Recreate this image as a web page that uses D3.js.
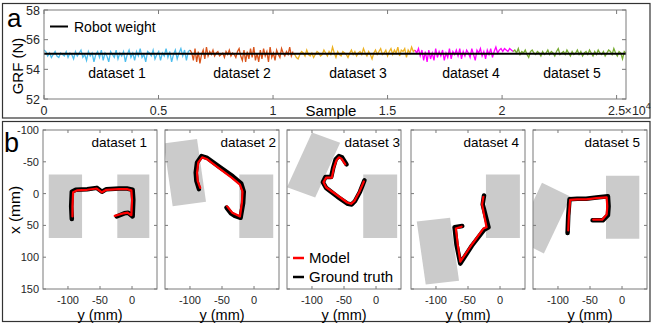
<!DOCTYPE html>
<html>
<head>
<meta charset="utf-8">
<script src="https://cdn.jsdelivr.net/npm/d3@7"></script>
<style>
  body { margin: 0; background: #fff; }
  svg { display: block; font-family: "Liberation Sans", Arial, sans-serif; }
</style>
</head>
<body>
<svg id="chart" width="652" height="324"></svg>
<script>
// ---- panel a data: ground reaction force per dataset ----
const datasetNames = ['dataset 1', 'dataset 2', 'dataset 3', 'dataset 4', 'dataset 5'];
const datasetColors = ['#4DBEEE', '#D95319', '#EDB120', '#FF00FF', '#77AC30'];
const sampleBounds = [0, 6380, 10870, 16200, 20480, 25410];
const robotWeight = 55.05;

const grf1 = [55.3,55.2,54.9,55.1,54.8,55.0,55.2,54.9,54.8,55.1,55.0,54.9,55.2,54.8,55.1,55.0,54.7,55.2,54.9,55.1,
  55.3,54.8,55.0,54.6,55.2,54.9,55.1,54.5,55.0,55.2,54.8,55.3,54.6,55.1,54.9,54.5,55.2,55.0,54.8,55.3,
  54.7,55.1,54.9,55.2,54.5,55.0,55.3,54.8,55.1,54.6,55.2,54.9,55.4,54.8,55.0,54.5,55.2,55.1,54.9,55.3,
  54.7,55.0,55.2,54.6,55.1,54.9,55.4,54.8,55.2,54.5,55.0,55.3,54.7,55.1,55.4,54.9,55.3,54.6,55.2,55.3];
const grf2 = [55.3,55.1,54.6,55.4,54.5,55.2,54.4,55.0,55.3,54.7,55.5,54.9,55.2,55.0,55.3,54.9,55.1,55.2,54.9,55.0,
  55.1,54.8,55.2,55.0,55.3,54.9,55.1,55.0,54.8,55.2,55.4,54.9,54.6,55.3,54.5,55.2,54.7,55.4,54.8,55.5,
  54.6,55.1,54.5,55.3,54.7,55.4,54.9,55.2,54.5,55.5,54.8,55.1,54.6,55.3,55.0,54.8,55.4,55.1,54.9,55.2,
  55.0,55.5,54.9,55.2];
const grf3 = [55.1,55.0,54.8,54.7,55.0,55.2,55.1,54.9,55.3,55.0,54.9,55.1,54.8,55.0,55.2,55.1,54.9,55.0,55.3,55.1,
  54.9,55.2,55.0,55.5,55.1,54.8,55.2,55.0,54.9,55.2,55.1,55.0,54.8,55.1,55.3,55.0,55.2,54.9,55.1,55.2,
  55.0,55.4,55.1,54.9,55.2,55.0,54.7,55.1,55.3,55.0,55.2,55.4,55.0,55.1,55.3,54.9,55.2,55.4,55.0,55.3,
  55.1,55.5,54.9,55.3,55.2,55.4,54.8,55.3,55.1,55.5,55.2,55.3];
const grf4 = [55.3,55.1,55.4,54.9,55.3,54.6,55.2,54.5,55.3,54.7,55.1,54.6,55.4,54.8,55.2,54.9,55.3,54.6,55.1,54.8,
  55.4,54.7,55.2,55.0,55.3,54.9,55.4,54.7,55.2,54.9,55.3,55.1,54.8,55.4,55.0,54.6,55.3,55.1,55.4,54.9,
  55.2,54.7,55.3,55.0,55.4,54.8,55.2,55.5,55.1,55.3,55.4,55.2,55.4,55.3,55.2,55.4,55.3,55.2];
const grf5 = [55.2,55.3,55.1,55.4,55.0,55.2,55.1,55.3,55.0,54.8,55.2,55.3,55.1,55.0,55.2,55.1,54.9,55.2,55.0,55.1,
  55.3,55.0,55.2,55.1,54.9,55.2,55.4,55.0,55.1,55.2,55.0,55.3,55.1,54.9,55.2,55.0,55.1,55.3,55.0,55.2,
  54.9,55.1,55.2,55.0,55.3,55.1,54.9,55.2,55.0,55.3,55.1,55.0,55.2,54.9,55.1,55.3,55.2,55.0,55.4,55.1,
  54.9,55.2,55.1,54.7,55.2,55.1];
const grfSeries = [grf1, grf2, grf3, grf4, grf5];

const grfTicks = [52, 54, 56, 58];
const sampleTicks = [0, 5000, 10000, 15000, 20000, 25000];
const sampleTickLabels = ['0', '0.5', '1', '1.5', '2', '2.5'];

// ---- panel b data: trajectories [y mm, x mm] ----
const model1 = [[-93,36],[-93,20],[-92,-2],[-86,-5],[-70,-6],[-55,-8],[-47,-2],[-40,-6],[-20,-7],[-8,-7],[-1,-5],[0,10],[-1,34],[-7,30],[-13,31],[-27,35]];
const truth1 = [[-94,40],[-95,20],[-94,-3],[-88,-6],[-70,-7],[-55,-9],[-47,-3],[-40,-7],[-20,-8],[-8,-8],[1,-6],[2,10],[1,36],[-6,30],[-12,31],[-24,36]];
const model2 = [[-84,-9],[-88,-20],[-89,-33],[-87,-49],[-81,-57],[-73,-54],[-55,-40],[-35,-25],[-22,-14],[-18,-3],[-19,15],[-22,36],[-28,33],[-34,30],[-42,20]];
const truth2 = [[-86,-7],[-90,-20],[-91,-33],[-89,-49],[-82,-59],[-73,-56],[-54,-42],[-33,-27],[-20,-16],[-16,-3],[-17,15],[-21,38],[-30,35],[-36,31],[-43,22]];
const model3 = [[-48,-46],[-54,-55],[-58,-57],[-62,-52],[-66,-40],[-69,-25],[-78,-25],[-82,-18],[-78,-10],[-60,3],[-45,14],[-39,16],[-34,12],[-26,-3],[-19,-19]];
const truth3 = [[-46,-46],[-53,-57],[-58,-59],[-63,-54],[-67,-40],[-70,-26],[-79,-26],[-83,-18],[-78,-9],[-60,5],[-44,16],[-38,17],[-33,12],[-25,-3],[-18,-21]];
const model4 = [[-26,5],[-28,17],[-25,33],[-21,53],[-26,55],[-44,80],[-62,107],[-66,80],[-69,55],[-60,52]];
const truth4 = [[-25,3],[-27,17],[-23,33],[-18,53],[-25,57],[-44,82],[-62,110],[-68,80],[-71,53],[-59,51]];
const model5 = [[-84,58],[-83,35],[-81,10],[-70,9],[-56,9],[-40,7],[-24,6],[-23,20],[-24,33],[-31,41],[-45,41]];
const truth5 = [[-85,62],[-84,35],[-82,9],[-70,8],[-56,8],[-40,6],[-22,4],[-21,20],[-22,34],[-30,42],[-46,42]];
const models = [model1, model2, model3, model4, model5];
const truths = [truth1, truth2, truth3, truth4, truth5];

// contact pads (grey), corners as [y, x]
const pads = [
  [[[-130,-30],[-78,-30],[-78,70],[-130,70]], [[-23,-30],[27,-30],[27,70],[-23,70]]],
  [[[-141,-79],[-89,-86],[-75,13],[-127,20]], [[-23,-30],[30,-30],[30,70],[-23,70]]],
  [[[-100,-96],[-56,-80],[-95,6],[-139,-10]], [[-20,-30],[33,-30],[33,70],[-20,70]]],
  [[[-130,44],[-78,38],[-64,137],[-116,143]], [[-22,-30],[31,-30],[31,70],[-22,70]]],
  [[[-125,-17],[-80,5],[-122,94],[-167,72]], [[-25,-28],[27,-28],[27,71],[-25,71]]]
];
const posXTicks = [-100, -50, 0, 50, 100, 150];
const posYTicks = [-100, -50, 0];

const svg = d3.select('#chart');
const axisCol = '#7a7a7a', textCol = '#262626';

// outer frames
svg.append('rect').attr('x', 2.5).attr('y', 3.5).attr('width', 647.5).attr('height', 114.5)
  .attr('fill', 'none').attr('stroke', '#333').attr('stroke-width', 1.2);
svg.append('rect').attr('x', 2.5).attr('y', 121.5).attr('width', 647.5).attr('height', 200)
  .attr('fill', 'none').attr('stroke', '#333').attr('stroke-width', 1.2);

// ================= panel a =================
const a = { left: 44, right: 626, top: 10, bottom: 99 };
const sx = d3.scaleLinear().domain([0, 25410]).range([a.left, a.right]);
const sy = d3.scaleLinear().domain([52, 58]).range([a.bottom, a.top]);
const ga = svg.append('g');

ga.append('clipPath').attr('id', 'clipA').append('rect')
  .attr('x', a.left).attr('y', a.top).attr('width', a.right - a.left).attr('height', a.bottom - a.top);

const series = ga.append('g').attr('clip-path', 'url(#clipA)');
grfSeries.forEach((vals, k) => {
  const s0 = sampleBounds[k], s1 = sampleBounds[k + 1];
  const line = d3.line()
    .x((d, i) => sx(s0 + i * (s1 - s0) / (vals.length - 1)))
    .y(d => sy(d));
  series.append('path').datum(vals).attr('d', line)
    .attr('fill', 'none').attr('stroke', datasetColors[k]).attr('stroke-width', 1.3);
});
series.append('line').attr('x1', a.left).attr('x2', a.right)
  .attr('y1', sy(robotWeight)).attr('y2', sy(robotWeight))
  .attr('stroke', '#000').attr('stroke-width', 2);

// box + inward ticks
ga.append('rect').attr('x', a.left).attr('y', a.top).attr('width', a.right - a.left).attr('height', a.bottom - a.top)
  .attr('fill', 'none').attr('stroke', axisCol).attr('stroke-width', 1);
grfTicks.forEach(t => {
  [[a.left, 4], [a.right, -4]].forEach(([x0, dx]) => {
    ga.append('line').attr('x1', x0).attr('x2', x0 + dx).attr('y1', sy(t)).attr('y2', sy(t))
      .attr('stroke', axisCol);
  });
  ga.append('text').attr('x', a.left - 4).attr('y', sy(t) + 4.5).attr('text-anchor', 'end')
    .attr('font-size', 12.5).attr('fill', textCol).text(t);
});
sampleTicks.forEach((t, i) => {
  [[a.bottom, -4], [a.top, 4]].forEach(([y0, dy]) => {
    ga.append('line').attr('x1', sx(t)).attr('x2', sx(t)).attr('y1', y0).attr('y2', y0 + dy)
      .attr('stroke', axisCol);
  });
  ga.append('text').attr('x', sx(t)).attr('y', 115).attr('text-anchor', 'middle')
    .attr('font-size', 12.5).attr('fill', textCol).text(sampleTickLabels[i]);
});
// exponent label
const ex = ga.append('text').attr('x', sx(25000) + 8).attr('y', 115).attr('font-size', 12.5).attr('fill', textCol);
ex.append('tspan').text('\u00d710');
ex.append('tspan').attr('font-size', 9).attr('dy', -6).text('4');

ga.append('text').attr('x', 331).attr('y', 116).attr('text-anchor', 'middle')
  .attr('font-size', 15).attr('fill', '#000').text('Sample');
ga.append('text').attr('transform', 'translate(23,66) rotate(-90)').attr('text-anchor', 'middle')
  .attr('font-size', 15).attr('fill', '#000').text('GRF (N)');

// dataset captions
const captionX = [117, 242, 358, 471, 572];
datasetNames.forEach((n, i) => {
  ga.append('text').attr('x', captionX[i]).attr('y', 78).attr('text-anchor', 'middle')
    .attr('font-size', 14).attr('fill', '#000').text(n);
});

// legend
ga.append('line').attr('x1', 50).attr('x2', 68).attr('y1', 26.5).attr('y2', 26.5)
  .attr('stroke', '#000').attr('stroke-width', 2);
ga.append('text').attr('x', 74).attr('y', 31.5).attr('font-size', 14).attr('fill', '#000').text('Robot weight');

ga.append('text').attr('x', 7).attr('y', 27).attr('font-size', 26).attr('fill', '#000').text('a');

// ================= panel b =================
const bLefts = [43, 165, 287, 411, 533];
const bW = 114, bTop = 130, bBottom = 289;
const captionPad = [10, 3, 1, 6, 7];

bLefts.forEach((left, k) => {
  const px = d3.scaleLinear().domain([-139, 39]).range([left, left + bW]);
  const py = d3.scaleLinear().domain([-100, 150]).range([bTop, bBottom]);
  const g = svg.append('g');
  const cid = 'clipB' + k;
  g.append('clipPath').attr('id', cid).append('rect')
    .attr('x', left).attr('y', bTop).attr('width', bW).attr('height', bBottom - bTop);
  const inner = g.append('g').attr('clip-path', `url(#${cid})`);

  pads[k].forEach(poly => {
    inner.append('polygon').attr('points', poly.map(p => px(p[0]) + ',' + py(p[1])).join(' '))
      .attr('fill', '#cbcbcb');
  });

  const line = d3.line().x(d => px(d[0])).y(d => py(d[1]));
  inner.append('path').datum(truths[k]).attr('d', line).attr('fill', 'none')
    .attr('stroke', '#000').attr('stroke-width', 4.5).attr('stroke-linejoin', 'round').attr('stroke-linecap', 'round');
  inner.append('path').datum(models[k]).attr('d', line).attr('fill', 'none')
    .attr('stroke', '#ff0000').attr('stroke-width', 2.2).attr('stroke-linejoin', 'round').attr('stroke-linecap', 'round');

  g.append('rect').attr('x', left).attr('y', bTop).attr('width', bW).attr('height', bBottom - bTop)
    .attr('fill', 'none').attr('stroke', axisCol).attr('stroke-width', 1);

  posXTicks.forEach(t => {
    [[left, 3], [left + bW, -3]].forEach(([x0, dx]) => {
      g.append('line').attr('x1', x0).attr('x2', x0 + dx).attr('y1', py(t)).attr('y2', py(t)).attr('stroke', axisCol);
    });
    if (k === 0) {
      g.append('text').attr('x', left - 4).attr('y', py(t) + 4).attr('text-anchor', 'end')
        .attr('font-size', 11).attr('fill', textCol).text(t);
    }
  });
  posYTicks.forEach(t => {
    [[bBottom, -3], [bTop, 3]].forEach(([y0, dy]) => {
      g.append('line').attr('x1', px(t)).attr('x2', px(t)).attr('y1', y0).attr('y2', y0 + dy).attr('stroke', axisCol);
    });
    g.append('text').attr('x', px(t)).attr('y', 304).attr('text-anchor', 'middle')
      .attr('font-size', 11).attr('fill', textCol).text(t);
  });

  g.append('text').attr('x', left + bW / 2).attr('y', 319.5).attr('text-anchor', 'middle')
    .attr('font-size', 14.5).attr('fill', '#000').text('y (mm)');
  g.append('text').attr('x', left + bW - captionPad[k]).attr('y', 147).attr('text-anchor', 'end')
    .attr('font-size', 13.5).attr('fill', '#000').text(datasetNames[k]);
});

svg.append('text').attr('transform', 'translate(20,210) rotate(-90)').attr('text-anchor', 'middle')
  .attr('font-size', 15.5).attr('fill', '#000').text('x (mm)');
svg.append('text').attr('x', 4).attr('y', 152).attr('font-size', 27).attr('fill', '#000').text('b');

// legend in dataset 3 subplot
const legend = [['Model', '#ff0000', 258, 263], ['Ground truth', '#000', 277, 282]];
legend.forEach(([label, col, ly, ty]) => {
  svg.append('line').attr('x1', 293).attr('x2', 304).attr('y1', ly).attr('y2', ly)
    .attr('stroke', col).attr('stroke-width', 2.5);
  svg.append('text').attr('x', 309).attr('y', ty).attr('font-size', 15).attr('fill', '#000').text(label);
});
</script>
</body>
</html>
